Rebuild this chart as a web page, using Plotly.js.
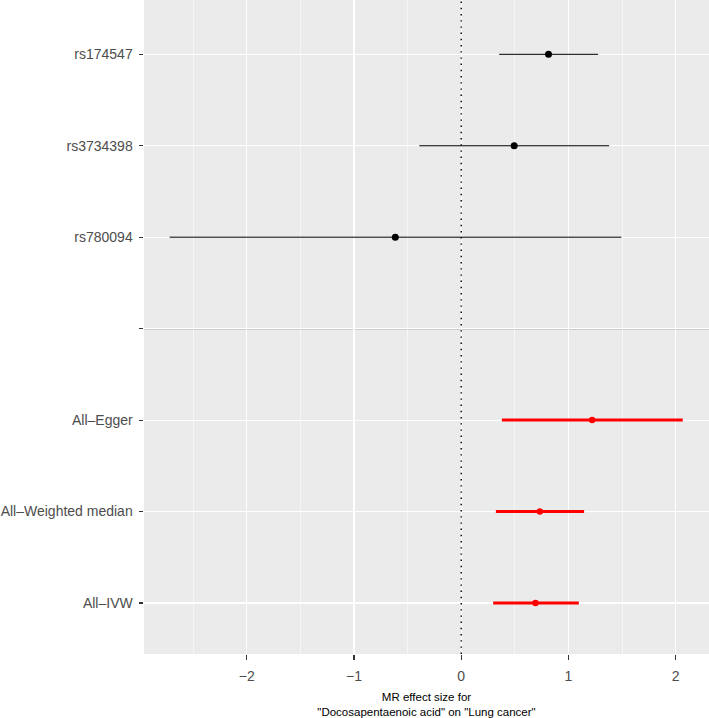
<!DOCTYPE html>
<html>
<head>
<meta charset="utf-8">
<script src="https://cdn.plot.ly/plotly-3.0.1.min.js"></script>
<style>html,body{margin:0;padding:0;background:#fff;}#chart{width:709px;height:718px;}</style>
</head>
<body>
<div id="chart"></div>
<script>
// Row labels from bottom to top (position 4 is the empty separator row)
const rowPositions = [1, 2, 3, 4, 5, 6, 7];
const rowLabels = ["All\u2013IVW", "All\u2013Weighted median", "All\u2013Egger", "", "rs780094", "rs3734398", "rs174547"];

// Individual SNP estimates
const snpPos = [5, 6, 7];
const snpB = [-0.615, 0.494, 0.814];
const snpLo = [-2.72, -0.391, 0.354];
const snpHi = [1.494, 1.379, 1.277];

// Summary (All) estimates
const sumPos = [1, 2, 3];
const sumB = [0.693, 0.733, 1.221];
const sumLo = [0.298, 0.323, 0.379];
const sumHi = [1.097, 1.146, 2.066];

const xTicks = [-2, -1, 0, 1, 2];
const separatorPos = 4;

const font = "Liberation Sans, Arial, Helvetica, sans-serif";

function errTrace(pos, b, lo, hi, color, lw, msize) {
  return {
    type: "scatter", mode: "markers",
    x: b, y: pos,
    marker: {color: color, size: msize},
    error_x: {
      type: "data", symmetric: false,
      array: hi.map((h, i) => h - b[i]),
      arrayminus: lo.map((l, i) => b[i] - l),
      width: 0, thickness: lw, color: color
    },
    hoverinfo: "x+y", showlegend: false, cliponaxis: false
  };
}

const traces = [
  errTrace(snpPos, snpB, snpLo, snpHi, "#000000", 1, 7),
  errTrace(sumPos, sumB, sumLo, sumHi, "#FF0000", 3, 6.5)
];

const layout = {
  width: 709, height: 718,
  margin: {l: 143.5, r: 0, t: 0, b: 64},
  paper_bgcolor: "#FFFFFF",
  plot_bgcolor: "#EBEBEB",
  font: {family: font, color: "#4D4D4D", size: 14},
  showlegend: false,
  xaxis: {
    range: [-2.959, 2.311],
    tickvals: xTicks,
    ticktext: xTicks.map(v => v < 0 ? "\u2212" + Math.abs(v) : String(v)),
    ticks: "outside", ticklen: 5, tickwidth: 1.1, tickcolor: "#333333",
    ticklabelstandoff: 4,
    showgrid: true, gridcolor: "#FFFFFF", gridwidth: 1.1,
    minor: {tickvals: [-2.5, -1.5, -0.5, 0.5, 1.5], showgrid: true, gridcolor: "#FFFFFF", gridwidth: 0.55, ticks: ""},
    zeroline: false, showline: false,
    tickfont: {family: font, size: 14, color: "#4D4D4D"},
    title: {
      text: "MR effect size for<br>\"Docosapentaenoic acid\" on \"Lung cancer\"",
      font: {family: font, size: 11.5, color: "#000000"},
      standoff: 14
    }
  },
  yaxis: {
    range: [0.442, 7.594],
    tickvals: rowPositions,
    ticktext: rowLabels,
    ticks: "outside", ticklen: 4.5, tickwidth: 1.1, tickcolor: "#333333",
    ticklabelstandoff: 3,
    showgrid: true, gridcolor: "#FFFFFF", gridwidth: 1.1,
    zeroline: false, showline: false,
    tickfont: {family: font, size: 14, color: "#4D4D4D"}
  },
  shapes: [
    {type: "line", xref: "x", yref: "paper", x0: 0, x1: 0, y0: 0, y1: 1,
     line: {color: "#000000", width: 1.4, dash: "1.4px,4.8px"}, layer: "above"},
    {type: "line", xref: "paper", yref: "y", x0: 0, x1: 1, y0: separatorPos, y1: separatorPos,
     line: {color: "#ABABAB", width: 1.5}, layer: "below"}
  ]
};

Plotly.newPlot("chart", traces, layout, {displayModeBar: false, staticPlot: true});
</script>
</body>
</html>
